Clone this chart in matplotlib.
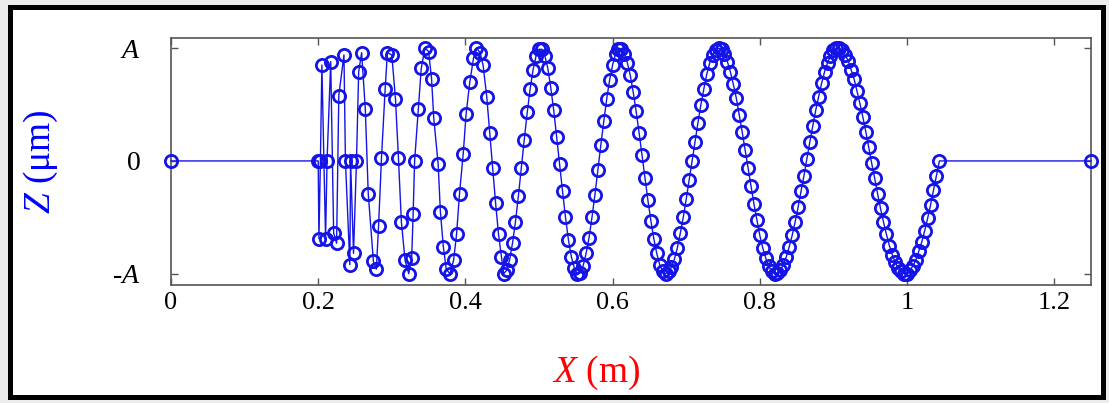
import numpy as np
import matplotlib.pyplot as plt
from matplotlib.patches import Rectangle

plt.rcParams['font.family'] = ['Liberation Serif', 'DejaVu Serif']
plt.rcParams['mathtext.fontset'] = 'custom'
plt.rcParams['mathtext.rm'] = 'Liberation Serif'
plt.rcParams['mathtext.it'] = 'Liberation Serif:italic'

x_m = [
    0.0,
    # aliased start
    0.200, 0.201, 0.203, 0.205, 0.210, 0.212, 0.217, 0.221, 0.225, 0.228,
    0.235, 0.237, 0.243, 0.244, 0.248, 0.252, 0.255, 0.259, 0.264, 0.268,
    0.275, 0.279, 0.282, 0.286, 0.291, 0.294, 0.300, 0.305, 0.309, 0.313,
    0.318, 0.323, 0.327, 0.329, 0.331, 0.336, 0.340, 0.345, 0.350, 0.354,
    0.357, 0.363, 0.366, 0.370, 0.374, 0.379, 0.384, 0.388, 0.392, 0.397,
    0.401, 0.406, 0.411, 0.415, 0.420, 0.424, 0.429, 0.433, 0.437, 0.441,
    0.445, 0.449,
    # smooth part
    0.452, 0.456, 0.460, 0.464, 0.468, 0.472, 0.476, 0.480, 0.484, 0.488, 0.492, 0.496, 0.500,
    0.504, 0.508, 0.512, 0.516, 0.520, 0.524, 0.528, 0.532, 0.536, 0.540, 0.544, 0.548, 0.552,
    0.556, 0.560, 0.564, 0.568, 0.572, 0.576, 0.580, 0.584, 0.588, 0.592, 0.596, 0.600, 0.604, 0.608,
    0.612, 0.616, 0.620, 0.624, 0.628, 0.632, 0.636, 0.640, 0.644, 0.648, 0.652, 0.656, 0.660, 0.664,
    0.668, 0.672,
    0.676, 0.680, 0.684, 0.688, 0.692, 0.696, 0.700, 0.704, 0.708, 0.712, 0.716, 0.720, 0.724, 0.728,
    0.732, 0.736, 0.740, 0.744,
    0.748, 0.752, 0.756, 0.760, 0.764, 0.768, 0.772, 0.776, 0.780, 0.784, 0.788, 0.792, 0.796, 0.800,
    0.804, 0.808, 0.812, 0.816, 0.820,
    0.824, 0.828, 0.832, 0.836, 0.840, 0.844, 0.848, 0.852, 0.856, 0.860, 0.864, 0.868, 0.872, 0.876,
    0.880, 0.884, 0.888, 0.892, 0.896, 0.900, 0.904,
    0.908, 0.912, 0.916, 0.920, 0.924, 0.928, 0.932, 0.936, 0.940, 0.944, 0.948, 0.952, 0.956, 0.960,
    0.964, 0.968, 0.972, 0.976, 0.980, 0.984, 0.988, 0.992, 0.996,
    1.000, 1.004, 1.008, 1.012, 1.016, 1.020, 1.024, 1.028, 1.032, 1.036, 1.040, 1.044,
    1.25,
]

z_A = [
    0.0,
    0.00, -0.69, 0.00, 0.85, -0.69, 0.00, 0.88, -0.64, -0.73, 0.58,
    0.94, 0.00, -0.92, 0.00, -0.82, 0.00, 0.79, 0.96, 0.46, -0.29,
    -0.89, -0.96, -0.58, 0.03, 0.64, 0.96, 0.94, 0.55, 0.03, -0.54,
    -0.88, -1.00, -0.86, -0.47, 0.00, 0.46, 0.82, 1.00, 0.97, 0.73,
    0.38, -0.03, -0.45, -0.76, -0.96, -1.00, -0.88, -0.65, -0.29, 0.06,
    0.42, 0.70, 0.91, 1.00, 0.96, 0.85, 0.57, 0.25, -0.06, -0.37,
    -0.65, -0.85,
    -1.00, -0.97, -0.88, -0.73, -0.54, -0.31, -0.06, 0.19, 0.43, 0.64, 0.81, 0.93, 0.99,
    0.99, 0.93, 0.82, 0.65, 0.45, 0.21, -0.03, -0.27, -0.50, -0.70, -0.85, -0.95, -1.00,
    -0.99, -0.93, -0.82, -0.68, -0.50, -0.30, -0.08, 0.14, 0.35, 0.55, 0.72, 0.85, 0.95, 0.99,
    0.99, 0.95, 0.87, 0.76, 0.61, 0.44, 0.25, 0.05, -0.15, -0.35, -0.53, -0.69, -0.82, -0.92,
    -0.98, -1.00,
    -0.98, -0.94, -0.87, -0.77, -0.64, -0.50, -0.34, -0.17, 0.00, 0.17, 0.34, 0.50, 0.64, 0.77,
    0.87, 0.94, 0.98, 1.00,
    0.99, 0.95, 0.88, 0.79, 0.68, 0.56, 0.41, 0.26, 0.10, -0.06, -0.22, -0.38, -0.52, -0.66,
    -0.77, -0.86, -0.93, -0.98, -1.00,
    -0.99, -0.97, -0.92, -0.85, -0.76, -0.66, -0.54, -0.41, -0.27, -0.13, 0.02, 0.17, 0.31, 0.45,
    0.57, 0.69, 0.79, 0.87, 0.93, 0.98, 1.00,
    1.00, 0.98, 0.94, 0.89, 0.81, 0.73, 0.62, 0.51, 0.39, 0.26, 0.12, -0.02, -0.15, -0.29,
    -0.42, -0.54, -0.65, -0.75, -0.83, -0.90, -0.95, -0.98, -1.00,
    -1.00, -0.97, -0.93, -0.88, -0.80, -0.72, -0.62, -0.51, -0.39, -0.26, -0.13, 0.00,
    0.0,
]

xticks = [0, 0.2, 0.4, 0.6, 0.8, 1.0, 1.2]
xtick_labels = ['0', '0.2', '0.4', '0.6', '0.8', '1', '1.2']
yticks = [-1, 0, 1]
ytick_labels = ['-$A$', '0', '$A$']

W, H = 1109, 403
fig = plt.figure(figsize=(W / 100, H / 100), dpi=100)
fig.patch.set_facecolor('#ececec')
# black frame round the whole picture
fig.patches.append(Rectangle((9.5 / W, 6 / H), (1103 - 9.5) / W, (396 - 6) / H,
                             transform=fig.transFigure, facecolor='white',
                             edgecolor='black', linewidth=3.6, zorder=-1))

ax = fig.add_axes([171 / W, 1 - 285 / H, (1091 - 171) / W, (285 - 38) / H])
ax.plot(x_m, z_A, '-o', color='#1414e6', mfc='none', ms=8.8, mew=2.0, lw=1.0,
        clip_on=False, zorder=3)

ax.set_xlim(0, 1.25)
ax.set_ylim(-1.1, 1.09)
ax.set_xticks(xticks)
ax.set_xticklabels(xtick_labels)
ax.set_yticks(yticks)
ax.set_yticklabels(ytick_labels)
ax.tick_params(direction='in', top=True, right=True, length=5, width=1,
               color='#555555', labelsize=19)
ax.tick_params(axis='x', pad=5)
ax.tick_params(axis='y', pad=22, labelsize=20)
for s in ax.spines.values():
    s.set_color('#555555')
    s.set_linewidth(1.2)

fig.text(596 / W, 1 - 373 / H, '$X$ (m)', color='red', fontsize=27,
         ha='center', va='center')
fig.text(41 / W, 1 - 162 / H, '$Z$ (μm)', color='blue', fontsize=27,
         rotation=90, ha='center', va='center')

fig.savefig('out.png', dpi=100, facecolor=fig.get_facecolor())
